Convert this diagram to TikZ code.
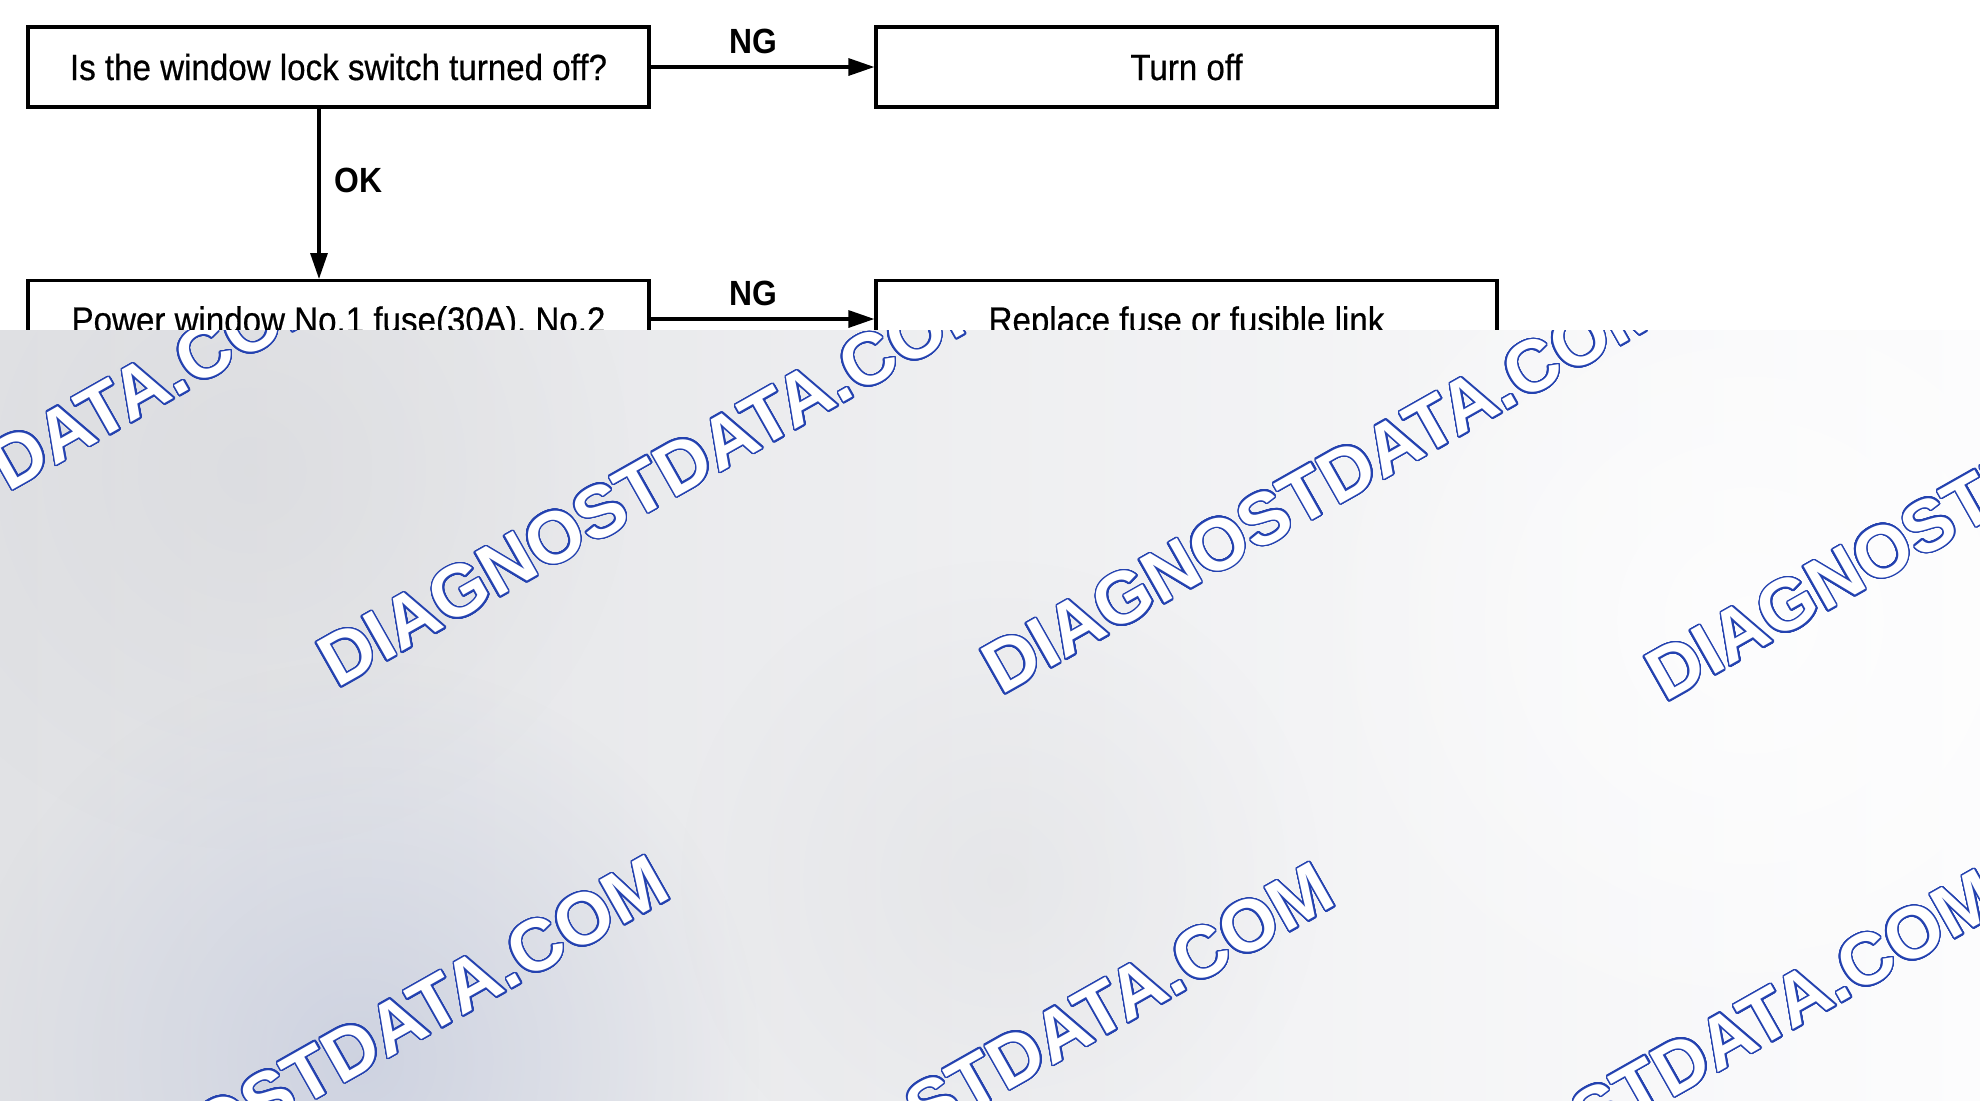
\documentclass[tikz,border=0pt]{standalone}
\usepackage{fontspec}
\setmainfont{Liberation Sans}
\newfontfamily\boxfont[FakeStretch=0.91,FakeBold=0.5]{Liberation Sans}
\newfontfamily\lblfont[FakeStretch=0.91]{Liberation Sans}
\newfontfamily\wmfont{Liberation Sans}
\usepackage{contour}
\usetikzlibrary{arrows.meta,fadings}
\contourlength{0.75pt}
\contournumber{32}
\definecolor{wmblue}{RGB}{36,66,176}
\definecolor{ovl}{RGB}{225,226,229}
\definecolor{ovr}{RGB}{252,252,253}
\definecolor{blobblue}{RGB}{198,204,222}
\definecolor{blobgray}{RGB}{214,215,219}
\tikzfading[name=blobfade, inner color=transparent!0, outer color=transparent!100]
\begin{document}
\begin{tikzpicture}[x=0.5pt,y=-0.5pt,
  box/.style={draw=black, line width=1.6pt, minimum width=310.5pt, minimum height=40pt,
    inner sep=0pt, font=\boxfont\fontsize{18.2}{20}\selectfont, text=black},
  boxtop/.style={box, minimum height=0pt, inner ysep=13pt, text height=13pt, text depth=50pt},
  lbl/.style={font=\lblfont\bfseries\fontsize{17.5}{19}\selectfont, inner sep=0pt, text=black},
  arr/.style={line width=1.6pt, -{Triangle[length=13pt,width=8.5pt]}},
  wm/.style={font=\wmfont\bfseries\fontsize{36.5}{40}\selectfont, text=white, inner sep=0pt,
    anchor=base west, rotate=29.5},
  blob/.style={path fading=blobfade}]
\useasboundingbox (0,0) rectangle (1980,1100);
\fill[white] (0,0) rectangle (1980,1100);

% flowchart
\node[box] (b1) at (338.5,67) {Is the window lock switch turned off?};
\node[box] (b2) at (1186.5,67) {Turn off};
\node[boxtop, anchor=north] (b3) at (338.5,279) {Power window No.1 fuse(30A). No.2};
\node[boxtop, anchor=north] (b4) at (1186.5,279) {Replace fuse or fusible link};

\draw[arr] (b1) -- node[lbl, above=6pt, pos=0.46] (ng1) {NG} (b2);
\draw[arr] ([xshift=-9.75pt]b1.south) -- node[lbl, right=7pt, pos=0.42] (ok1) {OK} ([xshift=-9.75pt]b3.north);
\draw[arr] ([yshift=-20pt]b3.north east) -- node[lbl, above=6pt, pos=0.46] (ng2) {NG} ([yshift=-20pt]b4.north west);

% watermark overlay
\begin{scope}
\clip (0,330) rectangle (1980,1100);
\shade[left color=ovl, right color=ovr] (0,330) rectangle (1980,1100);
\fill[blobgray, opacity=0.55, blob] (250,470) circle[radius=190pt];
\fill[blobblue, opacity=0.75, blob] (360,1060) circle[radius=200pt];
\fill[blobgray, opacity=0.35, blob] (1000,880) circle[radius=160pt];
\fill[white, opacity=0.7, blob] (1750,620) circle[radius=230pt];
\foreach \p [count=\i] in {(-327,682),(337,689),(1001,696),(1665,703),(5,1275),(670,1282),(1335,1289)}
  \node[wm] (wm\i) at \p {\contour{wmblue}{DIAGNOSTDATA.COM}};
\end{scope}
\end{tikzpicture}
\end{document}
